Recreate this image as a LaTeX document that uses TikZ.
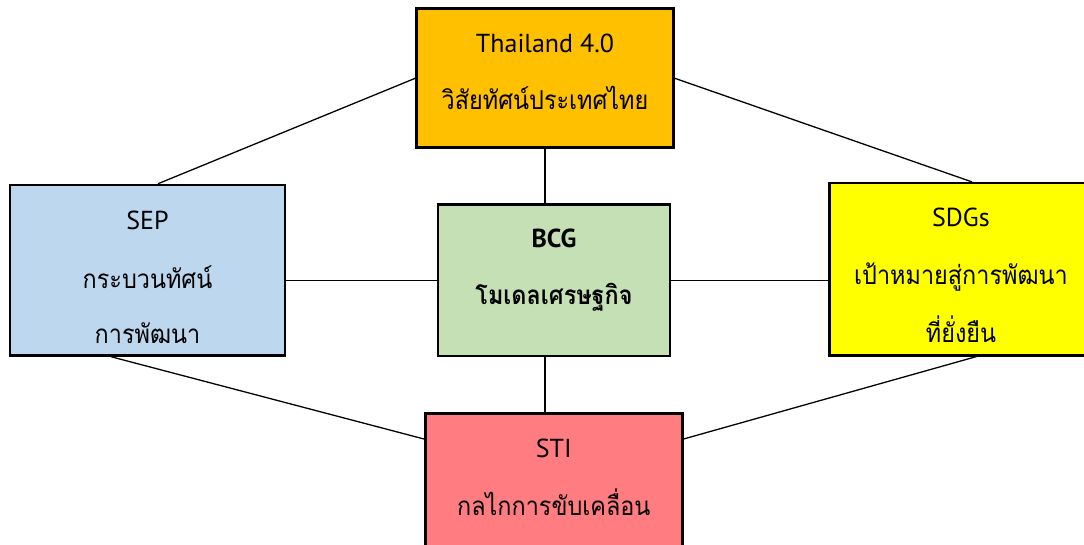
\documentclass[tikz,border=0pt]{standalone}
\usepackage{fontspec}
\setmainfont{PT Sans}
\newfontfamily\latinf{PT Sans}
\newfontfamily\thaif[Script=Thai,FakeStretch=0.9]{Loma}
\usetikzlibrary{calc}
\definecolor{cTop}{HTML}{FFC000}
\definecolor{cLeft}{HTML}{BDD7EE}
\definecolor{cMid}{HTML}{C5E0B4}
\definecolor{cRight}{HTML}{FFFF00}
\definecolor{cBot}{HTML}{FF7C80}
\tikzset{
  boxn/.style={draw=black, line width=2.6pt, rectangle, inner sep=0pt},
  link/.style={draw=black, line width=1.3pt},
  lat/.style={anchor=base, inner sep=0pt, font=\latinf\fontsize{26}{30}\selectfont},
  tha/.style={anchor=base, inner sep=0pt, font=\thaif\fontsize{26}{30}\selectfont},
}
\begin{document}
\begin{tikzpicture}[x=1pt, y=-1pt]
\useasboundingbox (0,0) rectangle (1084,545);
\clip (0,0) rectangle (1084,545);
% boxes (drawn as nodes)
\node[boxn, fill=cTop, minimum width=257pt, minimum height=139pt] (T) at (545,78.3) {};
\node[boxn, fill=cLeft, minimum width=275pt, minimum height=170.5pt] (L) at (147.5,270.3) {};
\node[boxn, fill=cMid, minimum width=232pt, minimum height=151.7pt] (C) at (554,280.2) {};
\node[boxn, fill=cRight, minimum width=263pt, minimum height=172pt] (R) at (961,269.2) {};
\node[boxn, fill=cBot, minimum width=257pt, minimum height=139pt] (B) at (553.8,483) {};
% connectors
\draw[link] (T.west) -- ([xshift=10.5pt]L.north);
\draw[link] (T.east) -- ([xshift=11pt]R.north);
\draw[link] ([xshift=-36pt]L.south) -- ([yshift=44pt]B.west);
\draw[link] ([yshift=44pt]B.east) -- ([xshift=15.7pt]R.south);
\draw[link] (T.south) -- (T.south |- C.north);
\draw[link] (C.south -| T.south) -- (B.north -| T.south);
\draw[link] (C.west) -- (C.west -| L.east);
\draw[link] (C.east) -- (C.east -| R.west);
% texts
\node[lat] (t1) at (545,53) {Thailand 4.0};
\node[tha] (t2) at (545,110) {วิสัยทัศน์ประเทศไทย};
\node[lat] (l1) at (147.5,230) {SEP};
\node[tha] (l2) at (147.5,288) {กระบวนทัศน์};
\node[tha] (l3) at (147.5,343) {การพัฒนา};
\node[lat, font=\latinf\bfseries\fontsize{26}{30}\selectfont] (c1) at (554,248) {BCG};
\node[tha, font=\thaif\bfseries\fontsize{26}{30}\selectfont] (c2) at (554,305) {โมเดลเศรษฐกิจ};
\node[lat] (r1) at (961,227) {SDGs};
\node[tha] (r2) at (961,285) {เป้าหมายสู่การพัฒนา};
\node[tha] (r3) at (961,342) {ที่ยั่งยืน};
\node[lat] (b1) at (553.8,457) {STI};
\node[tha] (b2) at (553.8,515) {กลไกการขับเคลื่อน};
\end{tikzpicture}
\end{document}
